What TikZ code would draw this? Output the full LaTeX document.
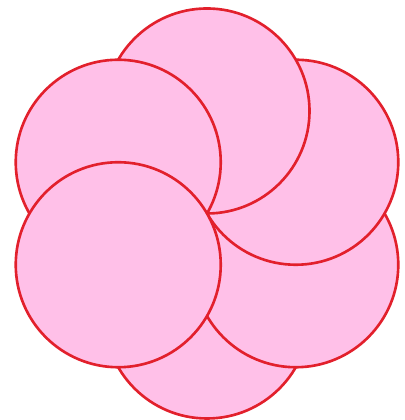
\documentclass[tikz,border=0pt]{standalone}

\definecolor{petalpink}{RGB}{255,192,232}
\definecolor{petalred}{RGB}{226,32,44}

\begin{document}
\begin{tikzpicture}[petal/.style={fill=petalpink, draw=petalred, line width=0.75pt}]
  \useasboundingbox (-2.07,-2.065) rectangle (1.97,2.135);
  \coordinate (p) at (0,0);
  \coordinate (cb)  at (-90:1.025);
  \coordinate (clr) at (-30:1.025);
  \coordinate (cur) at ( 30:1.025);
  \coordinate (ct)  at ( 90:1.025);
  \coordinate (cul) at (150:1.025);
  \coordinate (cll) at (210:1.025);
  \draw[petal] (cb)  circle (1.025);
  \draw[petal] (clr) circle (1.025);
  \draw[petal] (cur) circle (1.025);
  \draw[petal] (ct)  circle (1.025);
  \draw[petal] (cul) circle (1.025);
  \draw[petal] (cll) circle (1.025);
\end{tikzpicture}
\end{document}
